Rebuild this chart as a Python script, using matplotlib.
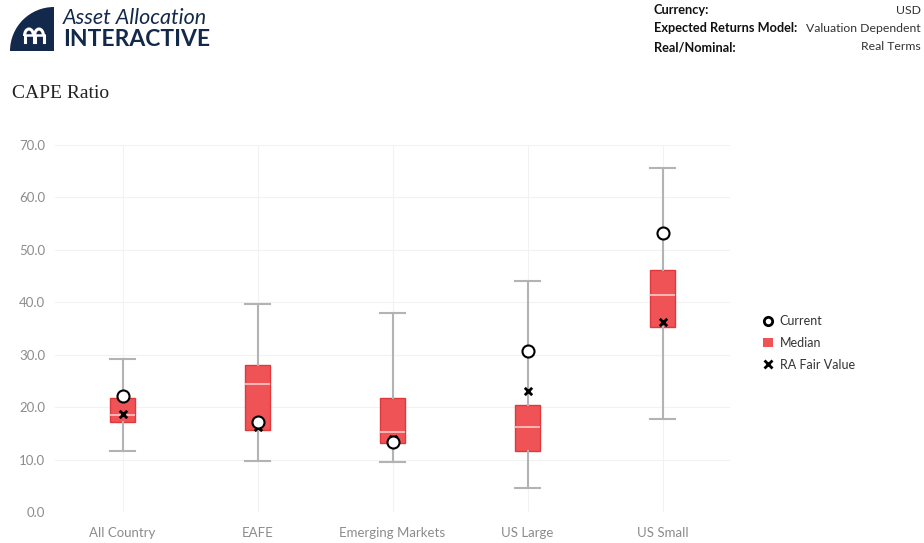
import matplotlib
matplotlib.use("Agg")
import matplotlib.pyplot as plt
from matplotlib.patches import Wedge, Arc
from matplotlib.lines import Line2D
from matplotlib.patches import Patch

# values
categories = ["All Country", "EAFE", "Emerging Markets", "US Large", "US Small"]
whisker_low = [11.6, 9.8, 9.5, 4.6, 17.7]
box_low = [17.1, 15.6, 13.1, 11.7, 35.2]
median = [18.5, 24.5, 15.3, 16.2, 41.4]
box_high = [21.7, 28.0, 21.7, 20.4, 46.1]
whisker_high = [29.2, 39.7, 38.0, 44.1, 65.7]
current = [22.1, 17.2, 13.3, 30.7, 53.3]
fair_value = [18.7, 16.2, 13.9, 23.1, 36.3]
yticks = [0, 10, 20, 30, 40, 50, 60, 70]

header_keys = ["Currency:", "Expected Returns Model:", "Real/Nominal:"]
header_vals = ["USD", "Valuation Dependent", "Real Terms"]

RED = "#f05355"
RED_EDGE = "#e0393c"
NAVY = "#13294b"
SANS = ["Lato", "DejaVu Sans"]

W, H = 924, 543
fig = plt.figure(figsize=(W / 100, H / 100), dpi=100)

def px(x, y):
    return x / W, 1 - y / H

ax = fig.add_axes([55 / W, 1 - 512 / H, (730 - 55) / W, (512 - 145) / H])

stats = []
for i in range(len(categories)):
    stats.append(dict(whislo=whisker_low[i], q1=box_low[i], med=median[i],
                      q3=box_high[i], whishi=whisker_high[i], fliers=[]))
pos = list(range(len(categories)))
ax.bxp(stats, positions=pos, widths=0.18, patch_artist=True, showfliers=False,
       boxprops=dict(facecolor=RED, edgecolor=RED_EDGE, linewidth=1.0),
       medianprops=dict(color="#ffc9c9", linewidth=1.2),
       whiskerprops=dict(color="#b3b3b3", linewidth=1.5),
       capprops=dict(color="#b3b3b3", linewidth=1.5), capwidths=0.18)

ax.scatter(pos, fair_value, marker="x", color="black", s=28, linewidths=2, zorder=5)
ax.scatter(pos, current, marker="o", facecolor="white", edgecolor="black",
           s=75, linewidths=1.5, zorder=6)

ax.set_xlim(-0.5, 4.5)
ax.set_ylim(0, 70)
ax.set_yticks(yticks)
ax.set_yticklabels([f"{v:.1f}" for v in yticks])
ax.set_xticks(pos)
ax.set_xticklabels(categories)
ax.grid(True, color="#f2f2f2", linewidth=0.8)
ax.set_axisbelow(True)
for s in ax.spines.values():
    s.set_visible(False)
ax.tick_params(length=0, labelcolor="#8c8c8c", labelsize=9.5)
ax.tick_params(axis="x", pad=10.5)
ax.tick_params(axis="y", pad=7)
for t in ax.get_xticklabels() + ax.get_yticklabels():
    t.set_family(SANS)

# legend
handles = [
    Line2D([], [], marker="o", color="none", markerfacecolor="white",
           markeredgecolor="black", markeredgewidth=2, markersize=6),
    Patch(facecolor=RED, edgecolor="none"),
    Line2D([], [], marker="x", color="none", markeredgecolor="black",
           markeredgewidth=2, markersize=6),
]
leg = fig.legend(handles, ["Current", "Median", "RA Fair Value"],
                 loc="upper left", bbox_to_anchor=px(752, 304), frameon=False,
                 handlelength=0.8, handleheight=0.8, handletextpad=0.5,
                 labelspacing=0.78, prop=dict(family=SANS, size=9))
for t in leg.get_texts():
    t.set_color("#333333")

# title
fig.text(*px(12, 93), "CAPE Ratio", family=["Liberation Serif", "DejaVu Serif"],
         fontsize=14, color="#222222", va="center", ha="left")

# header info
for i, (k, v) in enumerate(zip(header_keys, header_vals)):
    y = 10 + i * 18.5
    fig.text(*px(654, y), k, family=SANS, fontsize=9.2, fontweight="bold",
             color="#111111", va="center", ha="left")
    fig.text(*px(921, y), v, family=SANS, fontsize=8.8, color="#333333",
             va="center", ha="right")

# logo
lax = fig.add_axes([10 / W, 1 - 51 / H, 44 / W, 44 / H])
lax.set_xlim(0, 44)
lax.set_ylim(0, 44)
lax.axis("off")
lax.add_patch(Wedge((44, 0), 44, 90, 180, facecolor=NAVY, edgecolor="none"))
for cx in (19, 29):
    lax.add_patch(Arc((cx, 15), 9, 14, theta1=0, theta2=180, color="white", lw=2.2))
    lax.plot([cx - 4.5, cx - 4.5], [15, 9], color="white", lw=2.2)
    lax.plot([cx + 4.5, cx + 4.5], [15, 9], color="white", lw=2.2)
lax.plot([14.5, 33.5], [16.5, 16.5], color="white", lw=1.8)
fig.text(*px(63, 18), "Asset Allocation", family=SANS, fontsize=15.5, style="italic",
         color=NAVY, va="center", ha="left")
fig.text(*px(63, 40), "INTERACTIVE", family=SANS, fontsize=16.5, fontweight="bold",
         color=NAVY, va="center", ha="left")

fig.savefig("out.png", dpi=100, facecolor="white")
